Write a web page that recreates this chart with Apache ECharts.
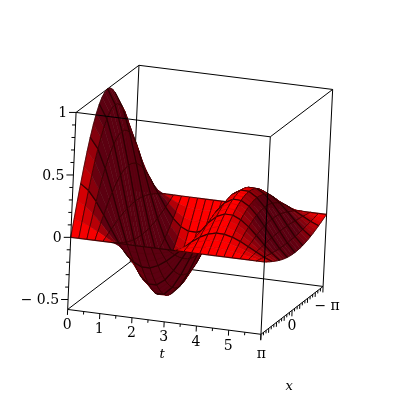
<!DOCTYPE html>
<html><head><meta charset="utf-8">
<style>html,body{margin:0;background:#fff}#c{width:400px;height:400px}</style>
<script src="https://cdn.jsdelivr.net/npm/echarts@6/dist/echarts.min.js"></script>
</head><body><div id="c"></div>
<script>
// ---- data ----
const tValues = [0,0.25,0.5,0.75,1,1.25,1.5,1.75,2,2.25,2.5,2.75,3,3.25,3.5,3.75,4,4.25,4.5,4.75,5,5.25,5.5,5.75,6];
const tAmplitude = [1,0.882,0.675,0.413,0.132,-0.13,-0.347,-0.497,-0.572,-0.57,-0.501,-0.382,-0.231,-0.072,0.078,0.201,0.286,0.327,0.325,0.284,0.216,0.13,0.039,-0.047,-0.116];
const xValues = [-3.1416,-2.8798,-2.618,-2.3562,-2.0944,-1.8326,-1.5708,-1.309,-1.0472,-0.7854,-0.5236,-0.2618,0,0.2618,0.5236,0.7854,1.0472,1.309,1.5708,1.8326,2.0944,2.3562,2.618,2.8798,3.1416];
const xProfile = [0,0.131,0.259,0.383,0.5,0.609,0.707,0.793,0.866,0.924,0.966,0.991,1,0.991,0.966,0.924,0.866,0.793,0.707,0.609,0.5,0.383,0.259,0.131,0];
const tTicks = [0,1,2,3,4,5];
const tTickLabels = ['0','1','2','3','4','5'];
const zTicks = [1,0.5,0,-0.5];
const zTickLabels = ['1','0.5','0','\u2212 0.5'];
const xTicks = [-3.1416,0,3.1416];
const xTickLabels = ['\u2212 \u03c0','0','\u03c0'];

// ---- view: where the box corners sit on the page ----
const tMax = 6, xMax = Math.PI, zMin = -0.58, zMax = 1;
const boxCorners = [
 [0,1,1, 76,113],[0,1,0, 67,309],[1,1,1, 271,137],[1,1,0, 261,334],
 [1,0,1, 332,89],[1,0,0, 323,287],[0,0,1, 139,65],[0,0,0, 131,262]];
function solveProjection(c){
  const A=[],b=[];
  c.forEach(([u,v,w,X,Y])=>{
    A.push([u,v,w,1,0,0,0,0,-X*u,-X*v,-X*w]);b.push(X);
    A.push([0,0,0,0,u,v,w,1,-Y*u,-Y*v,-Y*w]);b.push(Y);
  });
  const n=11,M=[];
  for(let i=0;i<n;i++){M.push([]);for(let j=0;j<=n;j++){let s=0;
    for(let k=0;k<A.length;k++)s+=A[k][i]*(j<n?A[k][j]:b[k]);M[i].push(s);}}
  for(let i=0;i<n;i++){let p=i;for(let r=i+1;r<n;r++)if(Math.abs(M[r][i])>Math.abs(M[p][i]))p=r;
    [M[i],M[p]]=[M[p],M[i]];
    for(let r=0;r<n;r++)if(r!==i){const f=M[r][i]/M[i][i];for(let j=i;j<=n;j++)M[r][j]-=f*M[i][j];}}
  return M.map((r,i)=>r[n]/r[i]);
}
const P = solveProjection(boxCorners);
const norm = (t,x,z)=>[t/tMax,(x+xMax)/(2*xMax),(z-zMin)/(zMax-zMin)];
function project(t,x,z){const [u,v,w]=norm(t,x,z);
  const d=P[8]*u+P[9]*v+P[10]*w+1;
  return [(P[0]*u+P[1]*v+P[2]*w+P[3])/d,(P[4]*u+P[5]*v+P[6]*w+P[7])/d,d];}

// ---- surface facets, sorted far to near ----
const zAt=(i,j)=>tAmplitude[i]*xProfile[j];
const area=q=>{let s=0;for(let k=0;k<q.length;k++){const a=q[k],b=q[(k+1)%q.length];s+=a[0]*b[1]-b[0]*a[1];}return s;};
const floorSign=Math.sign(area([project(0,-xMax,0),project(tMax,-xMax,0),project(tMax,xMax,0),project(0,xMax,0)]));
const Light=[-0.62,0.42,0.66];
const facets=[];
for(let i=0;i<tValues.length-1;i++)for(let j=0;j<xValues.length-1;j++){
  const c=[[i,j],[i+1,j],[i+1,j+1],[i,j+1]].map(([a,b])=>[tValues[a],xValues[b],zAt(a,b)]);
  const sc=c.map(p=>project(p[0],p[1],p[2]));
  const nc=c.map(p=>norm(p[0],p[1],p[2]));
  const a=[nc[2][0]-nc[0][0],nc[2][1]-nc[0][1],nc[2][2]-nc[0][2]];
  const b=[nc[3][0]-nc[1][0],nc[3][1]-nc[1][1],nc[3][2]-nc[1][2]];
  let n=[a[1]*b[2]-a[2]*b[1],a[2]*b[0]-a[0]*b[2],a[0]*b[1]-a[1]*b[0]];
  if(n[2]<0)n=n.map(v=>-v);
  if(Math.sign(area(sc))!==floorSign)n=n.map(v=>-v);
  const len=Math.hypot(n[0],n[1],n[2])||1;
  const dot=(n[0]*Light[0]+n[1]*Light[1]+n[2]*Light[2])/len;
  const I=Math.min(1,0.36+0.95*Math.max(0,dot));
  const col=`rgb(${Math.round(255*I)},0,${Math.round(26*(1-I))})`;
  facets.push({i,j,depth:(sc[0][2]+sc[1][2]+sc[2][2]+sc[3][2])/4,pts:sc.map(p=>[p[0],p[1]]),col});
}
facets.sort((a,b)=>b.depth-a.depth);

const lineKeys={
 back:[[[0,0,0],[1,0,0]],[[0,0,0],[0,1,0]],[[0,0,0],[0,0,1]],[[1,0,0],[1,0,1]],[[0,0,1],[1,0,1]],[[0,0,1],[0,1,1]],[[1,0,1],[1,1,1]]],
 front:[[[0,1,0],[1,1,0]],[[1,1,0],[1,0,0]],[[0,1,0],[0,1,1]],[[1,1,0],[1,1,1]],[[0,1,1],[1,1,1]]]
};
const corner=k=>project(k[0]*tMax,k[1]*2*xMax-xMax,k[2]*(zMax-zMin)+zMin);
function lineSeries(segs,w){return {type:'custom',coordinateSystem:'cartesian2d',silent:true,animation:false,clip:false,
  data:segs.map((s,i)=>[i]),encode:{x:0,y:0},
  renderItem(p,api){const s=segs[p.dataIndex];const a=api.coord(s[0]),b=api.coord(s[1]);
    return {type:'line',shape:{x1:a[0],y1:a[1],x2:b[0],y2:b[1]},style:{stroke:'#000',lineWidth:w}};}};}
const backSegs=lineKeys.back.map(s=>s.map(corner));
const frontSegs=lineKeys.front.map(s=>s.map(corner));
const tickSegs=[];
const pts=(t,x,z)=>project(t,x,z).slice(0,2);
for(let k=0;k<=12;k++){const t=k*0.5;const p=pts(t,xMax,zMin);const L=k%2?3:5.5;
  tickSegs.push([p,[p[0]-0.25,p[1]+L]]);}
for(let k=0;k<=24;k++){const x=xMax-k*2*xMax/24;const p=pts(tMax,x,zMin);const L=(k%12===0)?6:(k%3===0?4.5:3);
  tickSegs.push([p,[p[0]-0.2,p[1]+L]]);}
for(let k=-5;k<=10;k++){const z=k/10;const p=pts(0,xMax,z);const L=(k%5===0)?7:3.5;
  tickSegs.push([p,[p[0]-L,p[1]]]);}

const texts=[];
tTicks.forEach((t,i)=>{const p=pts(t,xMax,zMin);texts.push({p:[p[0]-0.5,p[1]+16],s:tTickLabels[i],a:'center'});});
zTicks.forEach((z,i)=>{const p=pts(0,xMax,z);texts.push({p:[p[0]-9,p[1]+1],s:zTickLabels[i],a:'right'});});
{const p=pts(tMax,-xMax,zMin);texts.push({p:[p[0]+4,p[1]+20],s:xTickLabels[0],a:'center'});
 const q=pts(tMax,0,zMin);texts.push({p:[q[0]+0,q[1]+16],s:xTickLabels[1],a:'center'});
 const r=pts(tMax,xMax,zMin);texts.push({p:[r[0]+0.5,r[1]+20],s:xTickLabels[2],a:'center'});
 const m=pts(tMax/2,xMax,zMin);texts.push({p:[m[0]-2,m[1]+33],s:'t',a:'center',it:1});
 const n=pts(tMax,0,zMin);texts.push({p:[n[0]-3,n[1]+76],s:'x',a:'center',it:1});}

const chart=echarts.init(document.getElementById('c'),null,{renderer:'canvas'});
chart.setOption({
  animation:false,backgroundColor:'#fff',
  grid:{left:0,right:0,top:0,bottom:0},
  xAxis:{type:'value',min:0,max:400,show:false},
  yAxis:{type:'value',min:0,max:400,inverse:true,show:false},
  series:[
    lineSeries(backSegs,1),
    {type:'custom',coordinateSystem:'cartesian2d',silent:true,animation:false,clip:false,progressive:0,
     data:facets.map((f,i)=>[i]),encode:{x:0,y:0},
     renderItem(p,api){const f=facets[p.dataIndex];const q=f.pts.map(a=>api.coord(a));
       const tLine=[q[1],q[2]];const xLine=[q[2],q[3]];
       const strong=(f.j%3===0);
       return {type:'group',children:[
        {type:'polygon',shape:{points:q},style:{fill:f.col,stroke:f.col,lineWidth:0.5}},
        {type:'polyline',shape:{points:[q[0],q[3]]},style:{fill:null,stroke:'rgba(50,0,0,0.75)',lineWidth:1}},
        {type:'polyline',shape:{points:tLine},style:{fill:null,stroke:'rgba(50,0,0,0.75)',lineWidth:1}},
        {type:'polyline',shape:{points:[q[0],q[1]]},style:{fill:null,stroke:strong?'rgba(40,0,0,0.85)':'rgba(50,0,0,0.14)',lineWidth:strong?1.2:0.6}},
        {type:'polyline',shape:{points:xLine},style:{fill:null,stroke:((f.j+1)%3===0)?'rgba(40,0,0,0.85)':'rgba(50,0,0,0.14)',lineWidth:((f.j+1)%3===0)?1.2:0.6}}
       ]};}},
    lineSeries(frontSegs,1),
    lineSeries(tickSegs,1),
    {type:'custom',coordinateSystem:'cartesian2d',silent:true,animation:false,clip:false,
     data:texts.map((f,i)=>[i]),encode:{x:0,y:0},
     renderItem(p,api){const f=texts[p.dataIndex];const c=api.coord(f.p);
       return {type:'text',style:{x:c[0],y:c[1],text:f.s,fill:'#000',align:f.a,verticalAlign:'middle',
         font:(f.it?'italic 13px':'14px')+' "DejaVu Serif"'}};}}
  ]
});
</script></body></html>
